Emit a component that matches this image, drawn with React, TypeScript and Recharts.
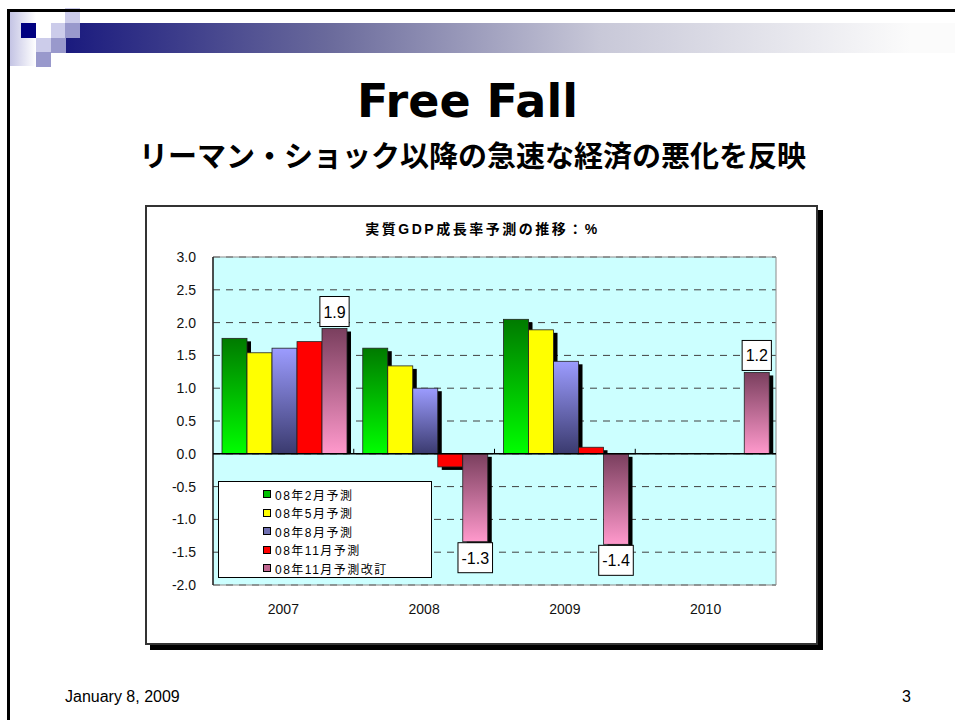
import React from "react";
import {
  BarChart,
  Bar,
  XAxis,
  YAxis,
  CartesianGrid,
  ReferenceLine,
  ReferenceArea,
  Legend,
  LabelList,
} from "recharts";

const years = ["2007", "2008", "2009", "2010"];
const febForecast = [1.76, 1.61, 2.05, null];
const mayForecast = [1.54, 1.34, 1.89, null];
const augForecast = [1.61, 1.0, 1.41, null];
const novForecast = [1.71, -0.2, 0.1, null];
const novRevised = [1.91, -1.34, -1.38, 1.24];
const yTicks = [-2, -1.5, -1, -0.5, 0, 0.5, 1, 1.5, 2, 2.5, 3];

const series = [
  { key: "feb", name: "08年2月予測", fill: "url(#gGreen)", swatch: "#00c000" },
  { key: "may", name: "08年5月予測", fill: "#ffff00", swatch: "#ffff00" },
  { key: "aug", name: "08年8月予測", fill: "url(#gBlue)", swatch: "#6f6fb0" },
  { key: "nov", name: "08年11月予測", fill: "#ff0000", swatch: "#ff0000" },
  { key: "rev", name: "08年11月予測改訂", fill: "url(#gPink)", swatch: "#c06690" },
];

const data = years.map((year, i) => ({
  year,
  feb: febForecast[i],
  may: mayForecast[i],
  aug: augForecast[i],
  nov: novForecast[i],
  rev: novRevised[i],
}));

const FONT = "'Liberation Sans', Arial, 'Noto Sans CJK JP', sans-serif";
const JP = "'Liberation Sans', 'Noto Sans CJK JP', sans-serif";

function ShadowBar(props: any) {
  const { x, y, width, height, fill } = props;
  let v = props.value;
  if (Array.isArray(v)) v = v[1];
  if (v == null || !height) return null;
  const top = Math.min(y, y + height);
  const h = Math.abs(height);
  const neg = v < 0;
  const shTop = top + 3;
  const shBottom = neg ? top + h + 3 : top + h;
  return (
    <g>
      <rect x={x + 4} y={shTop} width={width} height={Math.max(0, shBottom - shTop)} fill="#000" />
      <rect x={x} y={top} width={width} height={h} fill={fill} stroke="#222" strokeWidth={0.8} />
    </g>
  );
}

function textWidth(s: string) {
  let w = 0;
  for (const c of s) w += c === "." ? 4.45 : c === "-" ? 5.3 : 8.9;
  return w;
}

function BoxLabel(props: any) {
  const { x, y, width, height, value } = props;
  if (value == null) return null;
  const text = Number(value).toFixed(1);
  const top = Math.min(y, y + height);
  const bottom = Math.max(y, y + height);
  const w = textWidth(text) + 7;
  const h = 30;
  const cx = x + width / 2;
  const by = value >= 0 ? top - 2 - h : bottom + 1;
  return (
    <g>
      <rect x={cx - w / 2} y={by} width={w} height={h} fill="#fff" stroke="#000" strokeWidth={1} />
      <text x={cx} y={by + h / 2 + 6} textAnchor="middle" fontSize={16} fontFamily={FONT} fill="#000">
        {text}
      </text>
    </g>
  );
}

function ZeroLine(props: any) {
  const { x1, x2, y1 } = props;
  if (x1 == null) return null;
  const step = (x2 - x1) / years.length;
  return (
    <g>
      <line x1={x1} x2={x2} y1={y1} y2={y1} stroke="#000" strokeWidth={1.5} />
      {years.slice(1).map((_, i) => (
        <line key={i} x1={x1 + step * (i + 1)} x2={x1 + step * (i + 1)} y1={y1} y2={y1 - 5} stroke="#000" strokeWidth={1} />
      ))}
    </g>
  );
}

function LegendBox() {
  return (
    <div
      style={{
        width: 214,
        height: 97,
        boxSizing: "border-box",
        border: "1px solid #000",
        background: "#fff",
        paddingLeft: 44,
        paddingTop: 3,
        fontFamily: JP,
        fontSize: 12,
        letterSpacing: 1.5,
        color: "#000",
      }}
    >
      {series.map((s) => (
        <div key={s.key} style={{ height: 18.5, display: "flex", alignItems: "center" }}>
          <span
            style={{
              display: "inline-block",
              width: 6,
              height: 6,
              border: "1px solid #000",
              background: s.swatch,
              marginRight: 4,
            }}
          />
          <span>{s.name}</span>
        </div>
      ))}
    </div>
  );
}

function Squares() {
  const cells = [
    { c: 3, r: 0, col: "#ccccea" },
    { c: 0, r: 1, col: "#000080" },
    { c: 2, r: 1, col: "#ccccea" },
    { c: 3, r: 1, col: "#9999cc" },
    { c: 1, r: 2, col: "#ccccea" },
    { c: 2, r: 2, col: "#9999cc" },
    { c: 1, r: 3, col: "#9999cc" },
  ];
  return (
    <>
      {cells.map((q, i) => (
        <div
          key={i}
          style={{
            position: "absolute",
            left: 21 + q.c * 14.8,
            top: 8 + q.r * 14.8,
            width: 15,
            height: 15,
            background: q.col,
          }}
        />
      ))}
    </>
  );
}

export default function App() {
  return (
    <div style={{ position: "absolute", left: 0, top: 0, width: 955, height: 720, background: "#fff", overflow: "hidden" }}>
      <div
        style={{
          position: "absolute",
          left: 10,
          top: 12,
          width: 26,
          height: 54,
          background: "linear-gradient(to right, #c4c4e4, #ffffff)",
        }}
      />
      <div
        style={{
          position: "absolute",
          left: 65,
          top: 23,
          width: 890,
          height: 30,
          background: "linear-gradient(to right, #1a1a7e 0%, #6b6b9c 30%, #c8c8d8 60%, #fbfbfb 95%)",
        }}
      />
      <Squares />
      {/* slide frame */}
      <div style={{ position: "absolute", left: 7, top: 9, width: 960, height: 3, background: "#000" }} />
      <div style={{ position: "absolute", left: 7, top: 9, width: 3, height: 720, background: "#000" }} />

      <div
        style={{
          position: "absolute",
          left: 0,
          width: 935,
          top: 74,
          textAlign: "center",
          fontFamily: "'DejaVu Sans', sans-serif",
          fontWeight: "bold",
          fontSize: 46,
          color: "#000",
        }}
      >
        Free Fall
      </div>
      <div
        style={{
          position: "absolute",
          left: 0,
          width: 945,
          top: 134,
          textAlign: "center",
          fontFamily: "'Noto Sans CJK JP', sans-serif",
          fontWeight: "bold",
          fontSize: 29,
          letterSpacing: 0,
          color: "#000",
          lineHeight: "40px",
        }}
      >
        リーマン・ショック以降の急速な経済の悪化を反映
      </div>

      {/* chart frame */}
      <div
        style={{
          position: "absolute",
          left: 145,
          top: 205,
          width: 673,
          height: 440,
          boxSizing: "border-box",
          border: "2px solid #333",
          background: "#fff",
          boxShadow: "5px 5px 0 #000",
        }}
      />
      <div
        style={{
          position: "absolute",
          left: 145,
          width: 675,
          top: 218,
          textAlign: "center",
          fontFamily: JP,
          fontWeight: "bold",
          fontSize: 14,
          letterSpacing: 2.5,
          color: "#000",
        }}
      >
        実質GDP成長率予測の推移：%
      </div>
      <div style={{ position: "absolute", left: 145, top: 205 }}>
        <BarChart
          width={675}
          height={440}
          data={data}
          margin={{ top: 52, right: 44, bottom: 30, left: 0 }}
          barCategoryGap="6.4%"
          barGap={0}
          style={{ fontFamily: FONT }}
        >
          <defs>
            <linearGradient id="gGreen" x1="0" y1="0" x2="0" y2="1">
              <stop offset="0%" stopColor="#007a00" />
              <stop offset="100%" stopColor="#00ff00" />
            </linearGradient>
            <linearGradient id="gBlue" x1="0" y1="0" x2="0" y2="1">
              <stop offset="0%" stopColor="#9c9cff" />
              <stop offset="100%" stopColor="#3a3a6e" />
            </linearGradient>
            <linearGradient id="gPink" x1="0" y1="0" x2="0" y2="1">
              <stop offset="0%" stopColor="#7a3f5e" />
              <stop offset="100%" stopColor="#ff99cc" />
            </linearGradient>
          </defs>
          <CartesianGrid vertical={false} stroke="#404040" strokeDasharray="7 6" fill="#ccffff" fillOpacity={1} />
          <ReferenceArea y1={-2} y2={3} fill="none" stroke="#8a8a8a" strokeWidth={1} />
          <XAxis
            dataKey="year"
            height={30}
            axisLine={false}
            tickLine={false}
            tickSize={0}
            tickMargin={19}
            tick={{ fontSize: 14, fill: "#111", fontFamily: FONT }}
          />
          <YAxis
            domain={[-2, 3]}
            ticks={yTicks}
            interval={0}
            width={68}
            tickFormatter={(v: number) => v.toFixed(1)}
            axisLine={{ stroke: "#000", strokeWidth: 1.2 }}
            tickLine={false}
            tickSize={0}
            tickMargin={17}
            tick={{ fontSize: 14, fill: "#111", fontFamily: FONT }}
          />
          <Legend
            layout="vertical"
            align="center"
            verticalAlign="middle"
            content={() => <LegendBox />}
            wrapperStyle={{ left: 73, top: 276, width: 214, height: 97 }}
          />
          {series.map((s) => (
            <Bar key={s.key} dataKey={s.key} name={s.name} fill={s.fill} shape={ShadowBar} isAnimationActive={false}>
              {s.key === "rev" && <LabelList dataKey="rev" content={BoxLabel} />}
            </Bar>
          ))}
          <ReferenceLine y={0} shape={ZeroLine} />
        </BarChart>
      </div>

      <div style={{ position: "absolute", left: 65, top: 688, fontFamily: FONT, fontSize: 16, color: "#000" }}>
        January 8, 2009
      </div>
      <div style={{ position: "absolute", left: 902, top: 688, fontFamily: FONT, fontSize: 16, color: "#000" }}>3</div>
    </div>
  );
}
